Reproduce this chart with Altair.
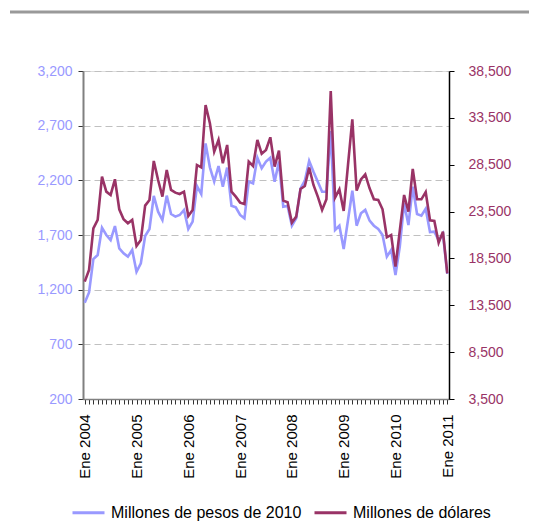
import altair as alt
import pandas as pd

# Monthly data, Jan 2004 .. Jan 2011 (85 months)
years = list(range(2004, 2012))
month_labels = [f"{y}-{m:02d}" for y in years for m in range(1, 13)][:85]

pesos = [1081, 1175, 1480, 1517, 1767, 1700, 1654, 1782, 1578, 1532, 1502, 1563,
         1364, 1441, 1691, 1755, 2057, 1913, 1837, 2060, 1892, 1868, 1883, 1929,
         1755, 1822, 2148, 2075, 2538, 2319, 2188, 2331, 2142, 2316, 1968, 1953,
         1883, 1852, 2188, 2172, 2407, 2310, 2371, 2407, 2188, 2371, 1959, 1965,
         1785, 1852, 2127, 2197, 2377, 2279, 2188, 2096, 2096, 2651, 1746, 1785,
         1572, 1837, 2105, 1785, 1898, 1929, 1831, 1785, 1755, 1700, 1502, 1563,
         1334, 1593, 1990, 1791, 2142, 1892, 1877, 1940, 1726, 1730, 1650, 1711, 1344]

dolares = [16026, 17271, 21716, 22605, 27227, 25627, 25272, 26943, 23743, 22676, 22249, 22605,
           19831, 20471, 24134, 24738, 28899, 26872, 25094, 27939, 25805, 25521, 25378, 25627,
           23031, 23671, 28472, 28223, 34873, 32917, 29894, 31139, 28650, 30606, 25627, 25094,
           24454, 24312, 28828, 28365, 31139, 29680, 30072, 31424, 28294, 30001, 24667, 24489,
           22320, 22960, 25912, 26232, 28188, 26338, 25094, 23671, 24809, 36366, 24987, 25876,
           23565, 28472, 33344, 25734, 26943, 27476, 25983, 24809, 24738, 23743, 20756, 21004,
           17626, 21467, 25272, 23494, 28045, 24809, 24809, 25580, 22570, 22500, 20180, 21354, 16915]

left_ticks = [200, 700, 1200, 1700, 2200, 2700, 3200]
right_ticks = [3500, 8500, 13500, 18500, 23500, 28500, 33500, 38500]
series_names = ["Millones de pesos de 2010", "Millones de dólares"]
series_colors = ["#9999FF", "#993366"]

df = pd.DataFrame({
    "idx": list(range(len(month_labels))),
    "mes": month_labels,
    "pesos": pesos,
    "dolares": dolares,
})
df["serie_p"] = series_names[0]
df["serie_d"] = series_names[1]

FONT = "Liberation Sans"

x_enc = alt.X(
    "idx:Q",
    scale=alt.Scale(domain=[-0.4, 84.4], nice=False, zero=False),
    axis=alt.Axis(
        values=list(range(85)),
        labelExpr="datum.value % 12 == 0 ? 'Ene ' + (2004 + datum.value / 12) : ''",
        labelAngle=-90, labelAlign="right", labelBaseline="middle",
        labelFont=FONT, labelFontSize=15, labelColor="#000000",
        labelOverlap=False, labelFlush=False, labelPadding=10,
        tickSize=5, tickColor="#333333", domainColor="#808080", domainWidth=1.5,
        grid=False, title=None,
    ),
)

color_scale = alt.Scale(domain=series_names, range=series_colors)
legend = alt.Legend(
    orient="none", legendX=-12, legendY=424, direction="horizontal",
    symbolType="stroke", symbolSize=1024, symbolStrokeWidth=3,
    labelFont=FONT, labelFontSize=16, labelColor="#000000", labelOffset=5,
    labelLimit=400, columnPadding=6, padding=0, title=None,
)

base = alt.Chart(df)

left_line = base.mark_line(strokeWidth=2.6).encode(
    x=x_enc,
    y=alt.Y(
        "pesos:Q",
        scale=alt.Scale(domain=[200, 3200], nice=False, zero=False),
        axis=alt.Axis(
            values=left_ticks, format=",d", orient="left",
            labelColor="#9999FF", labelFont=FONT, labelFontSize=14, labelPadding=6,
            tickSize=5, tickColor="#333333", domainColor="#808080", domainWidth=2,
            grid=True, gridDash=[7, 4], gridColor="#C0C0C0", gridWidth=1,
            title=None,
        ),
    ),
    color=alt.Color("serie_p:N", scale=color_scale, legend=legend, title=None),
)

right_line = base.mark_line(strokeWidth=2.6).encode(
    x=x_enc,
    y=alt.Y(
        "dolares:Q",
        scale=alt.Scale(domain=[3500, 38500], nice=False, zero=False),
        axis=alt.Axis(
            values=right_ticks, format=",d", orient="right",
            labelColor="#993366", labelFont=FONT, labelFontSize=14, labelPadding=14,
            tickSize=5, tickColor="#000000", domainColor="#000000", domainWidth=1.5,
            grid=False, title=None,
        ),
    ),
    color=alt.Color("serie_d:N", scale=color_scale, legend=legend, title=None),
)

top_rule = alt.Chart(pd.DataFrame({"k": [0]})).mark_rule(
    color="#999999", strokeWidth=3
).encode(x=alt.value(-73), x2=alt.value(462), y=alt.value(-59))

chart = alt.layer(top_rule, left_line, right_line).resolve_scale(
    y="independent"
).properties(
    width=366, height=328,
    autosize=alt.AutoSizeParams(type="none"),
    padding={"left": 75, "top": 63, "right": 80, "bottom": 132},
).configure_view(stroke=None).configure(background="#ffffff")

chart.save("out.html", embed_options={"renderer": "svg", "actions": False})
